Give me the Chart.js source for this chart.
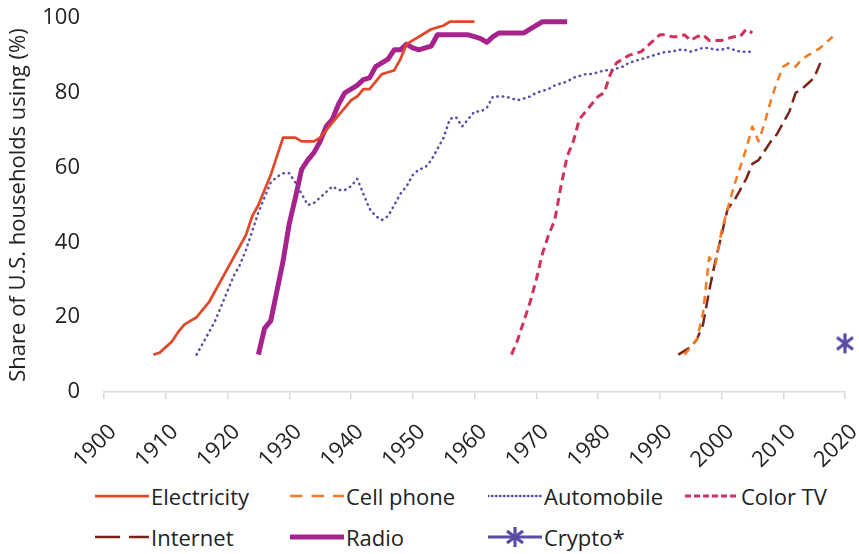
<!DOCTYPE html>
<html>
<head>
<meta charset="utf-8">
<script src="https://cdn.jsdelivr.net/npm/chart.js@4"></script>
<style>
  body { margin: 0; background: #fff; }
  #wrap { position: relative; width: 859px; height: 554px; font-family: "Open Sans", sans-serif; color: #222; }
  #c { position: absolute; left: 0; top: 0; }
  .item { position: absolute; display: flex; align-items: center; font-size: 22px; line-height: 26px; white-space: nowrap; }
  .item svg { margin-right: 2px; }
</style>
</head>
<body>
<div id="wrap">
  <canvas id="c" width="859" height="470"></canvas>
  <div id="legend"></div>
</div>
<script>
// share of U.S. households using each technology (%)
const electricityStart = 1908;
const electricity = [10, 10.5, 12, 13.5, 16, 18, 19, 20, 22, 24, 27, 30, 33, 36, 39, 42, 47, 50, 54, 58,
  63, 68, 68, 68, 67, 67, 67, 68, 70, 72, 74, 76, 78, 79, 81, 81, 83, 85, 85.5, 86,
  89, 93, 94, 95, 96, 97, 97.5, 98, 99, 99, 99, 99, 99];

const automobileStart = 1915;
const automobile = [10, 13, 16, 19, 23, 27, 31, 34, 38, 43, 48, 52, 56, 57.5, 58.5, 58.5, 56, 53, 50, 50.5,
  52, 53.5, 55, 54, 54, 55, 57, 53, 49, 47, 46, 47, 50, 53, 55, 58, 59.5, 60, 62, 65,
  68, 73, 73.5, 71, 73, 75, 75, 76, 79, 79, 79, 78.5, 78, 78.5, 79, 80, 80.5, 81, 82, 82.5,
  83, 84, 84.5, 85, 85, 85.5, 86, 86, 86.5, 87, 88, 88.5, 89, 89.5, 90, 90.5, 91, 91, 91.5, 91.5,
  91, 91.5, 92, 92, 91.5, 91.5, 92, 91.5, 91, 91, 91];

const radioStart = 1925;
const radio = [10, 17, 19, 27, 35, 45, 52, 59.5, 62, 64, 67, 71, 73, 77, 80, 81, 82, 83.5, 84, 87,
  88, 89, 91.5, 91.5, 93, 92, 91.5, 92, 92.5, 95.5, 95.5, 95.5, 95.5, 95.5, 95.5, 95, 94.5, 93.5, 95, 96,
  96, 96, 96, 96, 97, 98, 99, 99, 99, 99, 99];

const colorTvStart = 1966;
const colorTv = [10, 14, 19, 24, 30, 37, 42, 46, 55, 63, 67, 73, 75, 77, 79, 80, 85, 88, 89, 90,
  90.5, 91, 92.5, 94, 95.5, 95.5, 95, 95, 95.5, 94, 95, 95.5, 94, 94, 94, 94.5, 95, 95, 97, 96];

const cellPhoneStart = 1994;
const cellPhone = [10, 12, 14, 21, 36, 34, 43, 49, 55, 60, 65, 71, 67, 72, 78, 83, 87, 88, 87, 89,
  90, 91, 92, 93.5, 95];

const internetStart = 1993;
const internet = [10, 11, 12, 14, 18, 27, 35, 42, 49, 51, 54, 57, 61, 62, 64.5, 67, 69, 72, 75, 80,
  81, 82.5, 84, 88];

const cryptoYear = [2020];
const crypto = [13];

const yearTicks = [1900, 1910, 1920, 1930, 1940, 1950, 1960, 1970, 1980, 1990, 2000, 2010, 2020];
const shareTicks = [0, 20, 40, 60, 80, 100];

function points(start, values) {
  return values.map((v, i) => ({ x: start + i, y: v }));
}

// asterisk marker (vertical bar + two diagonals) like the original
function asterisk(color) {
  const cv = document.createElement('canvas');
  cv.width = 22; cv.height = 22;
  const g = cv.getContext('2d');
  g.strokeStyle = color; g.lineWidth = 3.2;
  g.beginPath();
  g.moveTo(11, 1); g.lineTo(11, 21);
  g.moveTo(3, 5); g.lineTo(19, 17);
  g.moveTo(3, 17); g.lineTo(19, 5);
  g.stroke();
  return cv;
}

const series = [
  { label: 'Electricity', data: points(electricityStart, electricity), color: '#e04a2a', width: 2.75, dash: [], key: [] },
  { label: 'Cell phone', data: points(cellPhoneStart, cellPhone), color: '#f27a24', width: 2.5, dash: [8, 6], key: [12.5, 9] },
  { label: 'Automobile', data: points(automobileStart, automobile), color: '#5b4aa6', width: 2.5, dash: [0.5, 5], key: [0.5, 3.5], cap: 'round' },
  { label: 'Color TV', data: points(colorTvStart, colorTv), color: '#d0325c', width: 3, dash: [8, 5], key: [6, 3] },
  { label: 'Internet', data: points(internetStart, internet), color: '#7b2419', width: 2.5, dash: [13, 6], key: [25, 9] },
  { label: 'Radio', data: points(radioStart, radio), color: '#a8228e', width: 5, dash: [], key: [] },
  { label: 'Crypto*', data: cryptoYear.map((y, i) => ({ x: y, y: crypto[i] })), color: '#5b4aa6', width: 3, dash: [], key: [], marker: true }
];

const datasets = series.map(s => ({
  label: s.label,
  data: s.data,
  borderColor: s.color,
  backgroundColor: s.color,
  borderWidth: s.width,
  borderDash: s.dash,
  borderCapStyle: s.cap || 'butt',
  borderJoinStyle: 'round',
  tension: 0,
  showLine: !s.marker,
  pointRadius: s.marker ? 11 : 0,
  pointStyle: s.marker ? asterisk(s.color) : 'circle',
  clip: false
}));

new Chart(document.getElementById('c'), {
  type: 'line',
  data: { datasets },
  options: {
    responsive: false,
    animation: false,
    devicePixelRatio: 1,
    layout: { padding: { top: 18, right: 10, left: 0, bottom: 0 } },
    plugins: { legend: { display: false }, tooltip: { enabled: false } },
    scales: {
      x: {
        type: 'linear',
        min: 1900,
        max: 2020,
        afterBuildTicks: axis => { axis.ticks = yearTicks.map(v => ({ value: v })); },
        afterFit: axis => { axis.height = 78; axis.paddingLeft = 0; axis.paddingRight = 0; },
        grid: { drawOnChartArea: false, drawTicks: true, tickLength: 7, color: '#d9d9d9', lineWidth: 1.5 },
        border: { display: true, color: '#d9d9d9', width: 1.5 },
        ticks: {
          autoSkip: false, minRotation: 45, maxRotation: 45, padding: 20, labelOffset: 9,
          color: '#222', font: { family: 'Open Sans', size: 22 },
          callback: v => String(v)
        }
      },
      y: {
        min: 0,
        max: 100,
        afterBuildTicks: axis => { axis.ticks = shareTicks.map(v => ({ value: v })); },
        afterFit: axis => { axis.width = 104; axis.paddingTop = 0; axis.paddingBottom = 0; },
        grid: { display: false, drawTicks: false },
        border: { display: false },
        ticks: { padding: 24, color: '#222', font: { family: 'Open Sans', size: 22 } },
        title: {
          display: true, text: 'Share of U.S. households using (%)',
          color: '#222', font: { family: 'Open Sans', size: 22 }, padding: { top: 6, bottom: 0 }
        }
      }
    }
  }
});

// legend laid out in fixed columns like the original
const legendCols = [95, 290, 488, 685];
const legendRows = [497, 538];
const legendEl = document.getElementById('legend');
series.forEach((s, i) => {
  const col = i % 4, row = Math.floor(i / 4);
  const div = document.createElement('div');
  div.className = 'item';
  div.style.left = legendCols[col] + 'px';
  div.style.top = (legendRows[row] - 14) + 'px';
  const dash = s.key.length ? s.key.join(' ') : 'none';
  let svg = '<svg width="54" height="22" viewBox="0 0 54 22">' +
    '<line x1="0" y1="11" x2="54" y2="11" stroke="' + s.color + '" stroke-width="' + s.width +
    '" stroke-dasharray="' + dash + '" stroke-linecap="' + (s.cap || 'butt') + '"/>';
  if (s.marker) {
    svg += '<g stroke="' + s.color + '" stroke-width="3.2">' +
      '<line x1="27" y1="1" x2="27" y2="21"/>' +
      '<line x1="19" y1="5" x2="35" y2="17"/><line x1="19" y1="17" x2="35" y2="5"/></g>';
  }
  svg += '</svg>';
  div.innerHTML = svg + '<span>' + s.label + '</span>';
  legendEl.appendChild(div);
});
</script>
</body>
</html>
